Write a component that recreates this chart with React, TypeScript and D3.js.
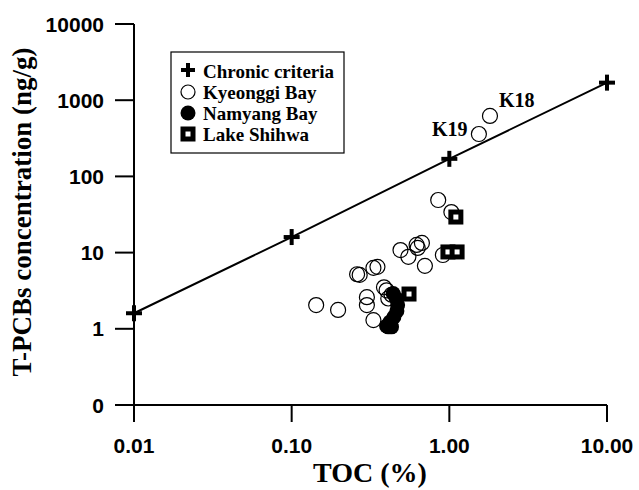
import React from "react";
import * as d3 from "d3";

// TOC (%) vs T-PCBs (ng/g)
const criteriaToc = [0.01, 0.1, 1, 10];
const criteriaPcb = [1.6, 16, 170, 1700];

const kyeonggiToc = [1.81, 1.54, 0.85, 1.03, 0.91, 0.7, 0.67, 0.62, 0.63, 0.55, 0.49, 0.26, 0.27, 0.33, 0.35, 0.3, 0.3, 0.33, 0.4, 0.41, 0.43, 0.143, 0.197, 0.385];
const kyeonggiPcb = [621, 360, 49, 34, 9.3, 6.7, 13.4, 12.6, 11.5, 8.8, 10.8, 5.2, 5.1, 6.3, 6.5, 2.6, 2.05, 1.3, 3.2, 2.5, 2.8, 2.05, 1.77, 3.5];

const namyangToc = [0.44, 0.46, 0.47, 0.465, 0.445, 0.42, 0.4, 0.43, 0.41];
const namyangPcb = [2.9, 2.5, 2.05, 1.71, 1.43, 1.23, 1.09, 1.06, 1.06];

const shihwaToc = [1.1, 0.98, 1.12, 0.555];
const shihwaPcb = [29.3, 10.2, 10.2, 2.86];

const xTicks = [0.01, 0.1, 1, 10];
const xTickLabels = ["0.01", "0.10", "1.00", "10.00"];
const yTicks = [0.1, 1, 10, 100, 1000, 10000];
const yTickLabels = ["0", "1", "10", "100", "1000", "10000"];

const legendLabels = ["Chronic criteria", "Kyeonggi Bay", "Namyang Bay", "Lake Shihwa"];

const serif = "'Liberation Serif', 'Times New Roman', serif";
const sans = "'Liberation Sans', Arial, sans-serif";

function Plus({ cx, cy, s = 8 }: { cx: number; cy: number; s?: number }) {
  return (
    <g stroke="#000" strokeWidth={4}>
      <line x1={cx - s} x2={cx + s} y1={cy} y2={cy} />
      <line x1={cx} x2={cx} y1={cy - s} y2={cy + s} />
    </g>
  );
}

export default function App() {
  const x = d3.scaleLog().domain([0.01, 10]).range([134, 607]);
  const y = d3.scaleLog().domain([0.1, 10000]).range([405, 24]);

  const line = d3
    .line<number>()
    .x((d) => x(d))
    .y((d, i) => y(criteriaPcb[i]));

  const r = 7.5;

  return (
    <svg
      width={639}
      height={490}
      style={{ position: "absolute", left: 0, top: 0, background: "#fff" }}
    >
      {/* axes */}
      <g stroke="#000" strokeWidth={2} fill="none">
        <line x1={x(0.01)} x2={x(10)} y1={405} y2={405} />
        <line x1={x(0.01)} x2={x(0.01)} y1={24} y2={405} />
        {xTicks.map((t) => (
          <line key={t} x1={x(t)} x2={x(t)} y1={405} y2={422} />
        ))}
        {yTicks.map((t) => (
          <line key={t} x1={115} x2={134} y1={y(t)} y2={y(t)} />
        ))}
      </g>
      {xTicks.map((t, i) => (
        <text
          key={t}
          x={x(t)}
          y={453}
          textAnchor="middle"
          fontFamily={sans}
          fontWeight="bold"
          fontSize={21}
        >
          {xTickLabels[i]}
        </text>
      ))}
      {yTicks.map((t, i) => (
        <text
          key={t}
          x={104}
          y={y(t) + 7.5}
          textAnchor="end"
          fontFamily={sans}
          fontWeight="bold"
          fontSize={21}
        >
          {yTickLabels[i]}
        </text>
      ))}
      <text
        x={370}
        y={482}
        textAnchor="middle"
        fontFamily={serif}
        fontWeight="bold"
        fontSize={28}
      >
        TOC (%)
      </text>
      <text
        transform="translate(31,212) rotate(-90)"
        textAnchor="middle"
        fontFamily={serif}
        fontWeight="bold"
        fontSize={27}
      >
        T-PCBs concentration (ng/g)
      </text>

      {/* criteria line */}
      <path d={line(criteriaToc) || ""} fill="none" stroke="#000" strokeWidth={2} />
      {criteriaToc.map((t, i) => (
        <Plus key={t} cx={x(t)} cy={y(criteriaPcb[i])} />
      ))}

      {/* Kyeonggi Bay */}
      {kyeonggiToc.map((t, i) => (
        <circle key={i} cx={x(t)} cy={y(kyeonggiPcb[i])} r={r} fill="none" stroke="#000" strokeWidth={1.2} />
      ))}
      {/* Namyang Bay */}
      {namyangToc.map((t, i) => (
        <circle key={i} cx={x(t)} cy={y(namyangPcb[i])} r={r} fill="#000" />
      ))}
      {/* Lake Shihwa */}
      {shihwaToc.map((t, i) => (
        <rect
          key={i}
          x={x(t) - 5}
          y={y(shihwaPcb[i]) - 5}
          width={10}
          height={10}
          fill="#fff"
          stroke="#000"
          strokeWidth={5}
        />
      ))}

      <text x={x(1.54) - 47} y={y(360) + 2} fontFamily={serif} fontWeight="bold" fontSize={20}>
        K19
      </text>
      <text x={x(1.81) + 9} y={y(621) - 9} fontFamily={serif} fontWeight="bold" fontSize={20}>
        K18
      </text>

      {/* legend */}
      <rect x={171} y={52} width={173} height={101} fill="#fff" stroke="#000" strokeWidth={1.2} />
      {legendLabels.map((lab, i) => {
        const cy = 71 + i * 21;
        let sym: React.ReactNode;
        if (i === 0) sym = <Plus cx={188} cy={cy - 1} s={7} />;
        else if (i === 1) sym = <circle cx={188} cy={cy} r={7} fill="none" stroke="#000" strokeWidth={1.2} />;
        else if (i === 2) sym = <circle cx={188} cy={cy} r={7.5} fill="#000" />;
        else sym = <rect x={183} y={cy - 5} width={10} height={10} fill="#fff" stroke="#000" strokeWidth={5} />;
        return (
          <g key={lab}>
            {sym}
            <text x={203} y={cy + 6.5} fontFamily={serif} fontWeight="bold" fontSize={19}>
              {lab}
            </text>
          </g>
        );
      })}
    </svg>
  );
}
